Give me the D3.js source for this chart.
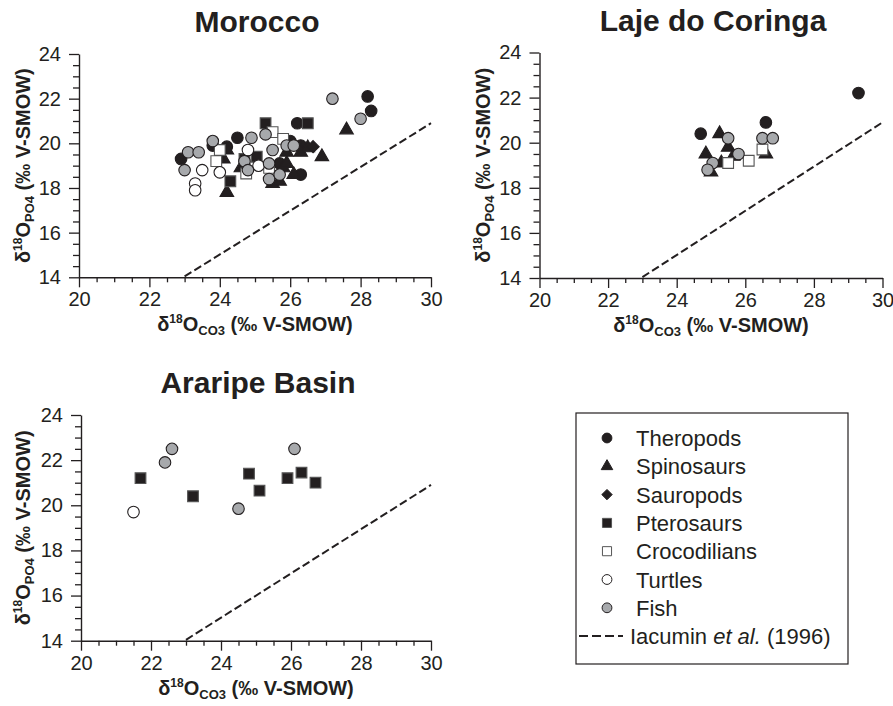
<!DOCTYPE html>
<html><head><meta charset="utf-8">
<script src="https://cdn.jsdelivr.net/npm/d3@7"></script>
<style>body{margin:0;background:#fff}svg{display:block}</style>
</head><body><svg id="c" width="893" height="706"></svg>
<script>
// ---------- DATA ----------
const groups = ["Theropods","Spinosaurs","Sauropods","Pterosaurs","Crocodilians","Turtles","Fish"];
const xTicks = [20,22,24,26,28,30];
const yTicks = [14,16,18,20,22,24];
// Iacumin et al. (1996) line endpoints (δ18O_CO3, δ18O_PO4)
const iacuminX = [23, 30];
const iacuminY = [14.04, 20.9];

// Morocco
const moroccoTheropods = [[22.9,19.3],[23.8,19.9],[24.2,19.85],[24.5,20.25],[25.7,19.1],[26.0,20.1],[26.2,20.9],[26.3,19.9],[26.3,18.6],[28.2,22.1],[28.3,21.45]];
const moroccoSpinosaurs = [[24.1,19.3],[24.2,19.7],[24.2,17.8],[24.6,18.9],[25.5,18.2],[25.7,18.3],[25.8,18.9],[25.9,19.1],[25.9,19.6],[26.3,19.6],[26.1,18.6],[26.5,19.8],[26.9,19.4],[27.6,20.6]];
const moroccoSauropods = [[26.65,19.85]];
const moroccoPterosaurs = [[24.3,18.3],[24.7,19.3],[25.05,19.4],[25.3,20.9],[26.5,20.9]];
const moroccoCrocodilians = [[23.9,19.2],[24.0,19.7],[24.75,18.65],[25.4,18.9],[25.5,20.5],[25.8,20.2]];
const moroccoTurtles = [[23.5,18.8],[23.3,18.2],[23.3,17.9],[24.0,18.7],[24.8,19.7],[25.1,19.0]];
const moroccoFish = [[23.0,18.8],[23.1,19.6],[23.4,19.6],[23.8,20.1],[24.7,19.2],[24.8,18.8],[24.9,20.25],[25.3,20.4],[25.5,19.7],[25.4,19.1],[25.4,18.4],[25.7,18.6],[25.9,19.9],[26.1,19.9],[27.2,22.0],[28.0,21.1]];

// Laje do Coringa
const lajeTheropods = [[24.7,20.4],[26.6,20.9],[29.3,22.2]];
const lajeSpinosaurs = [[25.25,20.4],[24.85,19.5],[25.0,18.7],[25.3,19.1],[25.5,19.8],[25.65,19.4],[26.6,19.5]];
const lajeSauropods = [];
const lajePterosaurs = [];
const lajeCrocodilians = [[25.5,19.1],[26.1,19.2],[26.5,19.7]];
const lajeTurtles = [];
const lajeFish = [[25.5,20.2],[25.05,19.1],[24.9,18.8],[25.8,19.5],[26.5,20.2],[26.8,20.2]];

// Araripe Basin
const araripeTheropods = [];
const araripeSpinosaurs = [];
const araripeSauropods = [];
const araripePterosaurs = [[21.7,21.2],[23.2,20.4],[24.8,21.4],[25.1,20.65],[25.9,21.2],[26.3,21.45],[26.7,21.0]];
const araripeCrocodilians = [];
const araripeTurtles = [[21.5,19.7]];
const araripeFish = [[22.4,21.9],[22.6,22.5],[24.5,19.85],[26.1,22.5]];

// ---------- STYLE ----------
const INK = "#231f20";
const style = {
  Theropods:   {sym: d3.symbolCircle,   size: 105, fill: INK, stroke: INK},
  Spinosaurs:  {sym: d3.symbolTriangle, size: 80,  fill: INK, stroke: INK},
  Sauropods:   {sym: d3.symbolDiamond2 || d3.symbolDiamond, size: 95, fill: INK, stroke: INK},
  Pterosaurs:  {sym: d3.symbolSquare,   size: 115, fill: INK, stroke: "#555"},
  Crocodilians:{sym: d3.symbolSquare,   size: 115, fill: "#fff", stroke: "#555"},
  Turtles:     {sym: d3.symbolCircle,   size: 105, fill: "#fff", stroke: INK},
  Fish:        {sym: d3.symbolCircle,   size: 105, fill: "#a7a9ac", stroke: INK}
};

const panels = [
  {title:"Morocco", l:79, r:431, t:54, b:277.3, ylabX:30,
   data:{Theropods:moroccoTheropods,Spinosaurs:moroccoSpinosaurs,Sauropods:moroccoSauropods,Pterosaurs:moroccoPterosaurs,Crocodilians:moroccoCrocodilians,Turtles:moroccoTurtles,Fish:moroccoFish}},
  {title:"Laje do Coringa", l:539.5, r:882.5, t:52.5, b:278, ylabX:490,
   data:{Theropods:lajeTheropods,Spinosaurs:lajeSpinosaurs,Sauropods:lajeSauropods,Pterosaurs:lajePterosaurs,Crocodilians:lajeCrocodilians,Turtles:lajeTurtles,Fish:lajeFish}},
  {title:"Araripe Basin", l:81, r:431, t:415, b:640.7, ylabX:30,
   data:{Theropods:araripeTheropods,Spinosaurs:araripeSpinosaurs,Sauropods:araripeSauropods,Pterosaurs:araripePterosaurs,Crocodilians:araripeCrocodilians,Turtles:araripeTurtles,Fish:araripeFish}}
];

const svg = d3.select("#c");
const FONT = "'Liberation Sans', Arial, Helvetica, sans-serif";

panels.forEach(p => {
  const x = d3.scaleLinear().domain([20,30]).range([p.l,p.r]);
  const y = d3.scaleLinear().domain([14,24]).range([p.b,p.t]);
  const g = svg.append("g");

  const minorX = d3.range(20,30.001,0.5).filter(v => !xTicks.includes(v));
  const minorY = d3.range(14,24.001,0.5).filter(v => !yTicks.includes(v));
  const gxm = g.append("g").attr("transform",`translate(0,${p.b})`)
    .call(d3.axisBottom(x).tickValues(minorX).tickSize(5).tickFormat(""));
  const gym = g.append("g").attr("transform",`translate(${p.l},0)`)
    .call(d3.axisLeft(y).tickValues(minorY).tickSize(6).tickFormat(""));
  const gx = g.append("g").attr("transform",`translate(0,${p.b})`)
    .call(d3.axisBottom(x).tickValues(xTicks).tickSize(10).tickPadding(5).tickSizeOuter(0).tickFormat(d3.format("d")));
  const gy = g.append("g").attr("transform",`translate(${p.l},0)`)
    .call(d3.axisLeft(y).tickValues(yTicks).tickSize(10).tickPadding(8).tickSizeOuter(0).tickFormat(d3.format("d")));
  [gxm,gym,gx,gy].forEach(a => {
    a.selectAll("path.domain").attr("stroke",INK).attr("stroke-width",1.4);
    a.selectAll(".tick line").attr("stroke",INK).attr("stroke-width",1.3);
    a.selectAll("text").attr("fill",INK).style("font-family",FONT).style("font-size","20px");
  });
  gxm.select("path.domain").remove(); gym.select("path.domain").remove();

  g.append("text").attr("x",(p.l+p.r)/2 + 2).attr("y",p.t-22).attr("text-anchor","middle")
    .style("font-family",FONT).style("font-size","30px").style("font-weight","bold").attr("fill",INK)
    .text(p.title);

  const xt = g.append("text").attr("x",(p.l+p.r)/2).attr("y",p.b+54).attr("text-anchor","middle")
    .style("font-family",FONT).style("font-size","20px").style("font-weight","bold").attr("fill",INK);
  xt.append("tspan").text("δ");
  xt.append("tspan").attr("dy",-8).style("font-size","12px").text("18");
  xt.append("tspan").attr("dy",8).text("O");
  xt.append("tspan").attr("dy",4).style("font-size","13px").text("CO3");
  xt.append("tspan").attr("dy",-4).text(" (‰ V-SMOW)");

  const yt = g.append("text").attr("transform",`translate(${p.ylabX},${(p.t+p.b)/2}) rotate(-90)`)
    .attr("text-anchor","middle")
    .style("font-family",FONT).style("font-size","20px").style("font-weight","bold").attr("fill",INK);
  yt.append("tspan").text("δ");
  yt.append("tspan").attr("dy",-8).style("font-size","12px").text("18");
  yt.append("tspan").attr("dy",8).text("O");
  yt.append("tspan").attr("dy",4).style("font-size","13px").text("PO4");
  yt.append("tspan").attr("dy",-4).text(" (‰ V-SMOW)");

  const line = d3.line().x(d=>x(d[0])).y(d=>y(d[1]));
  g.append("path").datum(iacuminX.map((v,i)=>[v,iacuminY[i]]))
    .attr("d",line).attr("fill","none").attr("stroke",INK).attr("stroke-width",2)
    .attr("stroke-dasharray","8,3.5");

  groups.forEach(k => {
    const s = style[k];
    g.append("g").selectAll("path").data(p.data[k]).join("path")
      .attr("transform",d=>`translate(${x(d[0])},${y(d[1])})`)
      .attr("d",d3.symbol().type(s.sym).size(s.size))
      .attr("fill",s.fill).attr("stroke",s.stroke).attr("stroke-width",1.1);
  });
});

// ---------- LEGEND ----------
const lg = svg.append("g");
const LX = 576, LY = 413, LW = 272, LH = 251, rowH = 28.3, row0 = 438;
lg.append("rect").attr("x",LX).attr("y",LY).attr("width",LW).attr("height",LH)
  .attr("fill","#fff").attr("stroke",INK).attr("stroke-width",1.2);
groups.forEach((k,i) => {
  const s = style[k];
  const cy = row0 + i*rowH;
  lg.append("path").attr("transform",`translate(${607},${cy})`)
    .attr("d",d3.symbol().type(s.sym).size(s.size*0.72))
    .attr("fill",s.fill).attr("stroke",s.stroke).attr("stroke-width",1);
  lg.append("text").attr("x",636).attr("y",cy+8)
    .style("font-family",FONT).style("font-size","22px").attr("fill",INK).text(k);
});
const cyL = row0 + 7*rowH;
lg.append("line").attr("x1",579).attr("x2",623).attr("y1",cyL).attr("y2",cyL)
  .attr("stroke",INK).attr("stroke-width",2).attr("stroke-dasharray","9,4");
const it = lg.append("text").attr("x",630).attr("y",cyL+8)
  .style("font-family",FONT).style("font-size","22px").attr("fill",INK);
it.append("tspan").text("Iacumin ");
it.append("tspan").style("font-style","italic").text("et al.");
it.append("tspan").text(" (1996)");
</script></body></html>
